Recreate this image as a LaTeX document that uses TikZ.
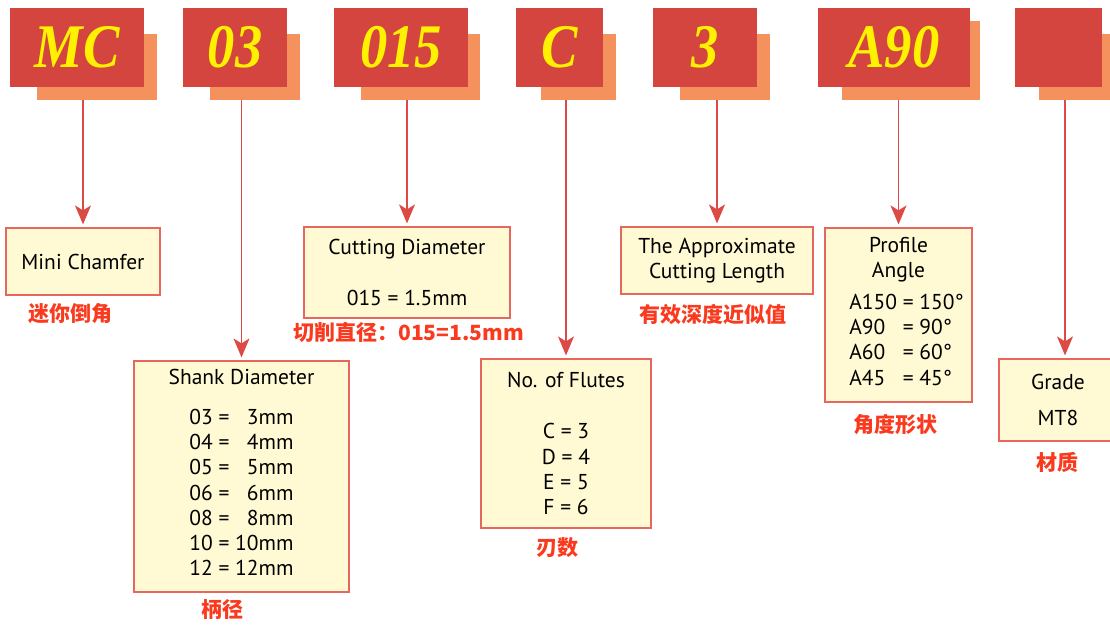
\documentclass[tikz,border=0pt]{standalone}
\usepackage{fontspec}
\setmainfont{PT Sans}
\newfontfamily\codefont[FakeStretch=0.88]{Liberation Serif}
\newfontfamily\cjk{Noto Sans CJK SC}
\usetikzlibrary{arrows.meta}
\definecolor{codered}{HTML}{D4453F}
\definecolor{shade}{HTML}{F5915C}
\definecolor{codeyellow}{HTML}{FFF200}
\definecolor{boxfill}{HTML}{FFFAD4}
\definecolor{boxline}{HTML}{E5675E}
\definecolor{linered}{HTML}{DB4A45}
\definecolor{labelred}{HTML}{FA3A1E}
\begin{document}
\begin{tikzpicture}[x=1pt,y=-1pt,
	codebox/.style={fill=codered, minimum height=79pt, inner sep=0pt, text=codeyellow,
		font=\codefont\bfseries\itshape\fontsize{62}{62}\selectfont},
	shadebox/.style={fill=shade, inner sep=0pt},
	descbox/.style={draw=boxline, fill=boxfill, line width=1.2pt, inner sep=0pt, align=center,
		font=\fontsize{21.5}{25.3}\selectfont},
	cnlabel/.style={text=labelred, inner sep=0pt, font=\cjk\bfseries\fontsize{21}{21}\selectfont},
	conn/.style={draw=linered, line width=1.2pt, shorten >=3pt, -{Stealth[length=19pt,width=16pt,inset=5pt]}}]
		\useasboundingbox (0,0) rectangle (1110,624);
		\clip (0,0) rectangle (1110,624);
		
		% Code boxes with their shadows
		\foreach \nm/\code/\x/\w/\sx/\sy/\sw/\sh in {mc/MC/77/134/97/67/120/66, d/03/235/104/255/67/90/66,
			cd/015/401/134/420.5/67/119/66, fl/C/559.5/87/578.5/67/75/66, len/3/705/104/725/67/90/66,
			ang/A90/894/152/911/60.5/138/79, gr//1058.5/87/1079.5/67/81/66}{
			\node[shadebox, minimum width=\sw, minimum height=\sh] (s\nm) at (\sx,\sy) {};
			\node[codebox, minimum width=\w] (c\nm) at (\x,47.5) {\code};
		}
		
		% Description boxes
		\node[descbox, minimum width=154pt, minimum height=67pt] (mini) at (83,261.5) {Mini Chamfer};
		\node[descbox, minimum width=215pt, minimum height=231pt] (shank) at (241.5,476.5)
			{Shank Diameter\\[14pt]\begin{tabular}[t]{@{}r@{ = }r@{}}03&3mm\\04&4mm\\05&5mm\\06&6mm\\08&8mm\\10&10mm\\12&12mm\end{tabular}};
		\node[descbox, minimum width=206pt, minimum height=91pt] (cut) at (407,272.5) {Cutting Diameter\\[25pt]015 = 1.5mm};
		\node[descbox, minimum width=170pt, minimum height=169pt] (flutes) at (566,443.5)
			{No. of Flutes\\[26pt]C = 3\\D = 4\\E = 5\\F = 6};
		\node[descbox, minimum width=192pt, minimum height=67pt] (approx) at (717,260.5) {The Approximate\\Cutting Length};
		\node[descbox, minimum width=147pt, minimum height=174pt] (profile) at (898.5,315)
			{Profile\\Angle\\[6pt]\hspace*{16pt}\begin{tabular}[t]{@{}l@{ = }l@{}}A150&150°\\A90&90°\\A60&60°\\A45&45°\end{tabular}};
		\node[descbox, minimum width=132pt, minimum height=82pt] (grade) at (1065,400) {Grade\hspace*{14pt}\\[10pt]MT8\hspace*{14pt}};
		
		% Chinese labels
		\node[cnlabel] (lmini) at (70.5,314) {迷你倒角};
		\node[cnlabel] (lshank) at (222.5,610) {柄径};
		\node[cnlabel] (lcut) at (408.5,333) {切削直径：015=1.5mm};
		\node[cnlabel] (lflutes) at (557.5,548) {刃数};
		\node[cnlabel] (lapprox) at (712.5,314) {有效深度近似值};
		\node[cnlabel] (lprofile) at (895,425) {角度形状};
		\node[cnlabel] (lgrade) at (1057.5,462) {材质};
		
		% Connectors
		\foreach \src/\dst in {smc/mini, sd/shank, scd/cut, sfl/flutes, slen/approx, sang/profile, sgr/grade}
		\draw[conn] (\dst.north |- \src.south) -- (\dst.north);
\end{tikzpicture}
\end{document}
